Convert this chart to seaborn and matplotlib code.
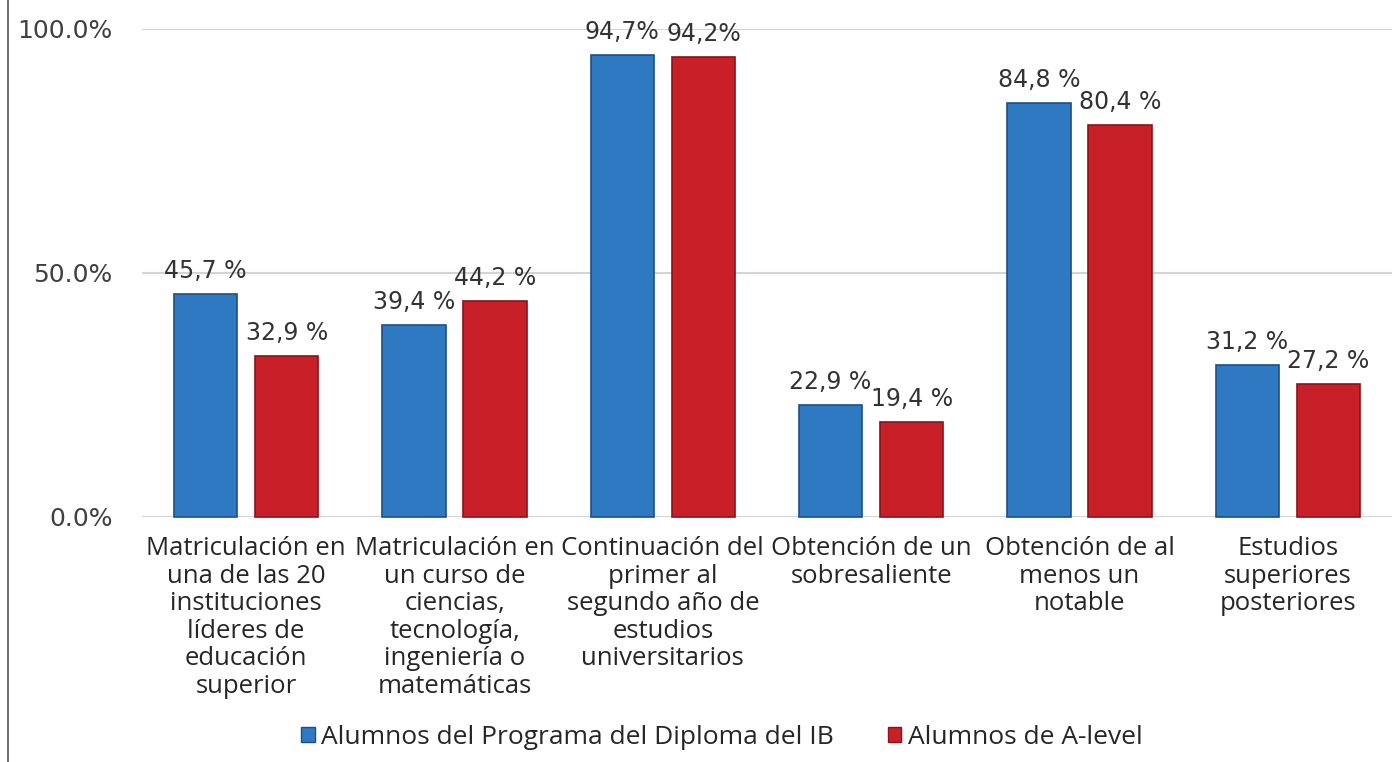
import pandas as pd
import matplotlib.pyplot as plt
import matplotlib.lines as mlines
import seaborn as sns

categories = [
    "Matriculación en\nuna de las 20\ninstituciones\nlíderes de\neducación\nsuperior",
    "Matriculación en\nun curso de\nciencias,\ntecnología,\ningeniería o\nmatemáticas",
    "Continuación del\nprimer al\nsegundo año de\nestudios\nuniversitarios",
    "Obtención de un\nsobresaliente",
    "Obtención de al\nmenos un\nnotable",
    "Estudios\nsuperiores\nposteriores",
]
series = ["Alumnos del Programa del Diploma del IB", "Alumnos de A-level"]
ib_values = [45.7, 39.4, 94.7, 22.9, 84.8, 31.2]
alevel_values = [32.9, 44.2, 94.2, 19.4, 80.4, 27.2]
ib_labels = ["45,7 %", "39,4 %", "94,7%", "22,9 %", "84,8 %", "31,2 %"]
alevel_labels = ["32,9 %", "44,2 %", "94,2%", "19,4 %", "80,4 %", "27,2 %"]
yticks = [0, 50, 100]
ytick_labels = ["0.0%", "50.0%", "100.0%"]

colors = ["#2f78c2", "#c91f28"]
edges = ["#1d4f86", "#8a1419"]

df = pd.DataFrame({
    "categoria": categories * 2,
    "grupo": [series[0]] * 6 + [series[1]] * 6,
    "valor": ib_values + alevel_values,
})

sns.set_theme(style="white")
plt.rcParams["font.family"] = ["DejaVu Sans"]

fig = plt.figure(figsize=(13.92, 7.62), dpi=100)
ax = fig.add_axes([142 / 1392, 1 - 517 / 762, 1 - 142 / 1392, (517 - 29) / 762])

sns.barplot(data=df, x="categoria", y="valor", hue="grupo", order=categories,
            hue_order=series, palette=colors, width=0.78, gap=0.22,
            saturation=1, ax=ax, legend=False, zorder=3)

# edge colour per series + value labels
for cont, edge, labels in zip(ax.containers, edges, [ib_labels, alevel_labels]):
    for bar in cont:
        bar.set_edgecolor(edge)
        bar.set_linewidth(1.2)
        bar.set_clip_on(False)
    ax.bar_label(cont, labels=labels, padding=8, fontsize=17, color="#333333")

ax.set_ylim(0, 100)
ax.set_xlim(-0.5, len(categories) - 0.5)
ax.set_yticks(yticks)
ax.set_yticklabels(ytick_labels)
ax.yaxis.grid(True, color="#d4d4d4", linewidth=1.5, zorder=0)
ax.set_axisbelow(True)
ax.tick_params(axis="y", length=0, pad=21, labelsize=18, labelcolor="#404040")
ax.tick_params(axis="x", length=0, pad=14, labelcolor="#262626")
for lab in ax.get_xticklabels():
    lab.set_fontfamily(["Open Sans", "DejaVu Sans"])
    lab.set_fontsize(18.5)
    lab.set_linespacing(1.13)
ax.set_xlabel("")
ax.set_ylabel("")
sns.despine(ax=ax, left=True, bottom=True)

handles = [plt.Rectangle((0, 0), 1, 1, facecolor=c, edgecolor=e, linewidth=1)
           for c, e in zip(colors, edges)]
fig.legend(handles, series, loc="center", bbox_to_anchor=(722 / 1392, 1 - 737 / 762),
           ncol=2, frameon=False, handlelength=0.5, handleheight=0.5,
           handletextpad=0.25, columnspacing=2.05,
           prop={"family": ["Open Sans", "DejaVu Sans"], "size": 19})

# thin frame line at left edge
fig.add_artist(mlines.Line2D([8 / 1392, 8 / 1392], [0, 1], color="#555555", linewidth=1.2))

fig.savefig("out.png", dpi=100)
plt.close(fig)
